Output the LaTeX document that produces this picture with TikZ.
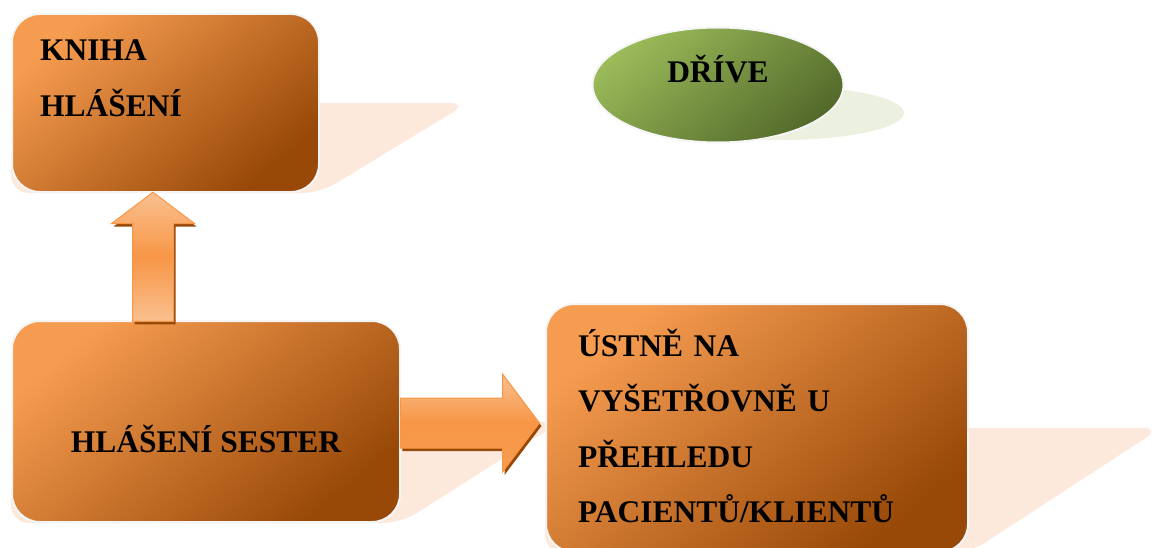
\documentclass[tikz,border=0pt]{standalone}
\usepackage{fontspec}
\setmainfont{Liberation Serif}
\usetikzlibrary{shapes.geometric,shapes.arrows,shadows,calc,backgrounds}

\definecolor{orangelight}{HTML}{F69C50}
\definecolor{orangedark}{HTML}{984807}
\definecolor{orangeshadow}{HTML}{FCE9DB}
\definecolor{greenlight}{HTML}{9BBB59}
\definecolor{greendark}{HTML}{536A2B}
\definecolor{greenshadow}{HTML}{EBF1DE}
\definecolor{arrowlight}{HTML}{FAC090}
\definecolor{arrowmid}{HTML}{F79646}
\definecolor{arrowshadow}{HTML}{984807}

\tikzstyle{orangebox} = [
        rectangle,
        rounded corners=28pt,
        top color=orangelight,
        bottom color=orangedark,
        shading angle=40,
        draw=gray!8,
        line width=2pt,
        inner sep=0pt,
        font=\fontsize{31.5}{56}\selectfont\bfseries,
    ]
\tikzstyle{greenbubble} = [
        ellipse,
        minimum width=251pt,
        minimum height=115pt,
        top color=greenlight,
        bottom color=greendark,
        shading angle=40,
        draw=gray!8,
        line width=2pt,
        inner sep=0pt,
        font=\fontsize{31.5}{56}\selectfont\bfseries,
    ]
\tikzstyle{blockarrow} = [
        single arrow,
        single arrow tip angle=106,
        draw=arrowmid,
        line width=1pt,
        inner sep=0pt,
        drop shadow={shadow xshift=2pt, shadow yshift=-3pt, fill=arrowshadow, opacity=1},
    ]

\begin{document}
\begin{tikzpicture}[x=1pt, y=-1pt]
            \useasboundingbox (0,0) rectangle (1155,548);
            \node [orangebox, minimum width=307pt, minimum height=178pt, text width=251pt, align=left,
                text height=20pt, text depth=104pt, anchor=north west] (kniha) at (11,13) {KNIHA\\HLÁŠENÍ};
            \node [greenbubble, text height=20pt, text depth=25pt] (drive) at (718,85) {DŘÍVE};
            \node [orangebox, minimum width=388pt, minimum height=201pt,
                text height=61pt, text depth=0pt, anchor=north west] (sester) at (11,320) {HLÁŠENÍ SESTER};
            \node [orangebox, font=\fontsize{31.5}{55.5}\selectfont\bfseries, minimum width=422pt, minimum height=248pt,
                text width=358pt, align=left, text height=20pt, text depth=164pt,
                anchor=north west] (ustne) at (545,303) {ÚSTNĚ NA\\VYŠETŘOVNĚ U\\PŘEHLEDU\\PACIENTŮ/KLIENTŮ};
            \begin{scope}[on background layer]
                \fill [orangeshadow, rounded corners=18pt] (kniha.west) -- ($(kniha.east)+(148,0)$) -- (kniha.south east) -- (kniha.south west) -- cycle;
                \fill [orangeshadow, rounded corners=18pt] (sester.west) -- ($(sester.east)+(160,0)$) -- (sester.south east) -- (sester.south west) -- cycle;
                \fill [orangeshadow, rounded corners=18pt] (ustne.west) -- ($(ustne.east)+(192,0)$) -- (ustne.south east) -- (ustne.south west) -- cycle;
                \fill [greenshadow] ($(drive.center)+(62,28)$) ellipse [x radius=124, y radius=27];
            \end{scope}
            \node [blockarrow, rotate=90, minimum height=129pt, text height=20pt, text depth=20pt,
                single arrow head extend=21pt, top color=arrowlight, bottom color=arrowlight, middle color=arrowmid]
                (up) at ($(sester.north west)+(142,-55.5)$) {};
            \node [blockarrow, minimum height=139pt, text height=24.5pt, text depth=24.5pt,
                single arrow head extend=24pt, top color=arrowlight, bottom color=arrowmid!85!arrowlight, middle color=arrowmid]
                (right) at ($(sester.east)+(59.5,1.5)$) {};
        \end{tikzpicture}
\end{document}
